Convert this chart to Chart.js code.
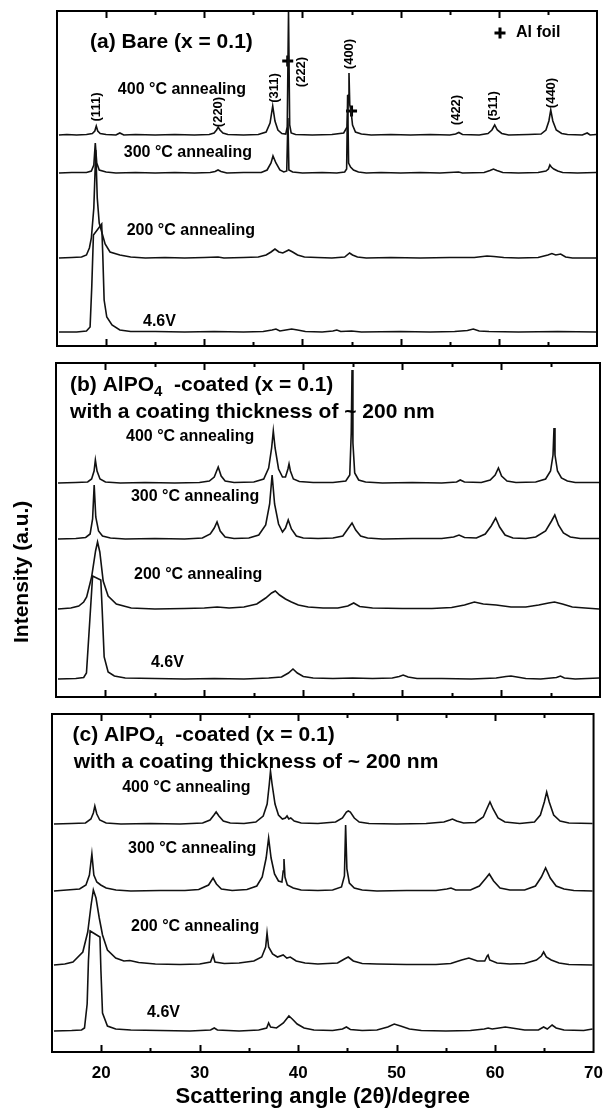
<!DOCTYPE html>
<html><head><meta charset="utf-8">
<script src="https://cdn.jsdelivr.net/npm/chart.js@4.4.1/dist/chart.umd.min.js"></script>
<style>
html,body{margin:0;padding:0;background:#fff;}
body{width:614px;height:1110px;position:relative;overflow:hidden;}
canvas{position:absolute;left:0;}
</style></head><body>
<canvas id="cA" width="614" height="360" style="top:0px;width:614px;height:360px"></canvas>
<canvas id="cB" width="614" height="352" style="top:356px;width:614px;height:352px"></canvas>
<canvas id="cC" width="614" height="402" style="top:708px;width:614px;height:402px"></canvas>
<script>
// ---------- axis ----------
const xTickLabels = [20, 30, 40, 50, 60, 70];
const xMinorTicks = [25, 35, 45, 55, 65];
const xTitle = 'Scattering angle (2θ)/degree';
const yTitle = 'Intensity (a.u.)';
const traceNames = ['400 °C annealing', '300 °C annealing', '200 °C annealing', '4.6V'];
const peakLabels = ['(111)', '(220)', '(311)', '(222)', '(400)', '(422)', '(511)', '(440)'];
const peakLabelX = [19.04, 31.4, 37.1, 39.9, 44.75, 55.65, 59.5, 65.4];

// ---------- panel (a) Bare: [2theta, intensity above trace baseline] ----------
const offsetsA = [211, 173, 88, 14];
const a400 = [[15.2,0],[16,0.5],[17,0],[18,0.5],[18.6,1.5],[18.85,4],[19.0,9],[19.15,4],[19.4,1.5],[20,0.5],[21,0],[21.4,2],[21.8,0],[23,0.5],[25,0],[27,0.5],[29,0],[30.5,0.5],[31.0,2],[31.25,5],[31.42,8],[31.6,5],[31.9,2],[32.4,0.5],[34,0],[35.5,0.5],[36.3,3],[36.7,12],[36.97,29],[37.2,14],[37.5,5],[37.9,1.5],[38.3,1],[38.45,8],[38.58,123],[38.7,10],[38.85,2],[39.3,0.5],[41,0],[43,0.5],[44.2,2],[44.55,8],[44.68,40],[44.74,62],[44.82,30],[44.95,24],[45.1,10],[45.4,3],[46,1],[47,0],[49,0.5],[51,0],[53,0.5],[55,0],[55.6,1],[55.93,2.5],[56.3,0.5],[58,0],[58.9,1.5],[59.3,5],[59.58,10],[59.85,5],[60.3,1.5],[61,0],[63,0.5],[64.3,1],[64.8,5],[65.1,14],[65.29,25],[65.5,14],[65.85,5],[66.4,1.5],[67,0.5],[68.5,0],[69,2],[69.3,0],[69.9,0.5]];
const a300 = [[15.2,0],[16.5,0.5],[18,0.5],[18.5,2],[18.75,8],[18.9,30],[19.05,10],[19.3,3],[20,1],[21,0],[23,0.5],[25,0],[27,0.5],[29,0],[30.6,0.5],[31.1,1.5],[31.4,3],[31.7,1.5],[32.3,0],[34,0.5],[35.8,0.5],[36.4,3],[36.8,10],[37.0,17],[37.3,10],[37.7,3],[38.1,1],[38.4,2],[38.52,55],[38.62,3],[39,1],[40,0],[42,0.5],[43.5,0],[44.3,1],[44.5,4],[44.6,78],[44.7,10],[44.9,6],[45.2,3],[45.7,1],[46.5,0],[48,0.5],[50,0],[52,0.5],[54,0],[55.9,1],[56.3,0],[58.5,0.5],[59.1,2.5],[59.45,4],[59.8,2.5],[60.4,0.5],[62,0],[64,0.5],[64.8,2],[65.05,4],[65.2,8],[65.35,6],[65.6,4],[66,2],[66.5,0.5],[68,0],[69.9,0.5]];
const a200 = [[15.2,0],[16.5,0.5],[17.5,1],[18.0,3],[18.3,10],[18.5,20],[18.75,50],[18.95,108],[19.1,60],[19.3,35],[19.5,28],[19.9,14],[20.4,6],[21.4,3],[22.5,1],[24,0],[26,0.5],[28,0],[30,0.5],[31.4,1],[32,0],[34,0.5],[35.5,1],[36.3,3],[36.8,6],[37.2,9],[37.6,6],[38.0,5],[38.6,8],[39.0,6],[39.5,3],[40.2,1],[41.5,0.5],[43,0],[44.3,1],[44.8,5],[45.1,3],[45.6,1],[46.5,0],[49,0.5],[52,0],[55,0.5],[57.5,0.5],[58.8,2],[59.5,1.5],[60.5,0.5],[62,0],[64,0.5],[65.0,3],[65.4,4.5],[65.8,3],[66.3,4],[66.8,1],[67.5,0],[69.9,0]];
const a46 = [[15.2,0],[17,0],[18.0,1],[18.37,5],[18.54,45],[18.71,97],[19.55,108],[19.66,78],[19.8,32],[20.07,15],[20.6,7],[21.4,2],[22.5,0.5],[25,0.5],[28,0],[31,0.5],[34,0],[36,0.5],[36.9,2],[37.3,3],[37.7,1],[38.3,2],[38.9,3],[39.5,2],[40.3,0.5],[42,0],[43.1,1],[43.5,2],[43.9,0.5],[45,1],[46,0],[50,0.5],[53,0],[55.5,0.5],[56.8,1.5],[57.4,3],[58,1],[59,0.5],[62,0],[66,0.5],[69.9,0]];
const alFoilMarks = [[38.5, 285], [45.0, 235]];

// ---------- panel (b) AlPO4-coated ----------
const offsetsB = [214, 158, 88, 18];
const b400 = [[15.2,0],[17,0.5],[18.2,1],[18.6,4],[18.85,12],[18.98,23],[19.15,12],[19.45,4],[20,1],[21.5,0],[24,0.5],[27,0],[29.5,0.5],[30.5,2],[31.0,6],[31.4,16],[31.7,7],[32.1,2],[33,0.5],[35,1],[36.0,4],[36.5,15],[36.8,35],[36.97,52],[37.15,35],[37.5,14],[37.9,6],[38.2,6],[38.45,14],[38.56,19],[38.7,12],[39.0,4],[39.6,1.5],[41,0.5],[43,0.5],[44.3,2],[44.7,8],[44.85,50],[44.93,113],[45.02,40],[45.2,10],[45.6,3],[46.3,1],[48,0],[51,0.5],[54,0],[55.5,1],[55.87,3],[56.3,1],[58,0.5],[58.9,3],[59.4,8],[59.73,15],[60.05,7],[60.6,2],[61.5,0.5],[63.5,1],[64.5,4],[65.0,12],[65.25,28],[65.35,55],[65.45,28],[65.7,12],[66.1,5],[66.7,2],[67.5,0.5],[69.9,0.5]];
const b300 = [[15.2,0],[17,0.5],[18.0,1.5],[18.45,5],[18.7,20],[18.86,54],[19.02,22],[19.3,8],[19.7,3],[20.5,1],[22,0],[25,0.5],[28,0],[29.8,1],[30.6,5],[31.0,11],[31.28,17],[31.6,8],[32.1,2],[33,0.5],[34.5,1],[35.5,4],[36.2,14],[36.6,35],[36.85,64],[37.1,35],[37.5,15],[37.9,7],[38.2,11],[38.48,19],[38.8,10],[39.3,3],[40,1],[41.5,0.5],[43,1],[44.0,3],[44.5,10],[44.93,16],[45.3,9],[45.8,3],[46.5,1],[48,0],[51,0.5],[54,0.5],[55.2,2],[55.75,4],[56.3,1.5],[57.5,1],[58.4,5],[59.0,13],[59.45,21],[59.85,12],[60.4,4],[61.2,1],[62.5,0.5],[63.5,2],[64.5,8],[65.1,18],[65.43,24],[65.8,14],[66.3,6],[67,2],[68,0.5],[69.9,0.5]];
const b200 = [[15.2,0],[16.5,1],[17.3,3],[17.8,7],[18.1,12],[18.6,32],[19.0,58],[19.2,67],[19.43,57],[19.77,28],[20.27,13],[21.1,5],[22.6,1],[25,0],[28,0.5],[30,1],[31.3,2],[32.5,1],[34,2],[35.3,5],[36.2,11],[36.8,16],[37.17,18],[37.6,14],[38.2,10],[38.8,7],[39.5,4],[40.5,2],[42,1],[43.5,1],[44.5,3],[45.1,6],[45.7,2.5],[47,1],[50,0.5],[53,0.5],[55,1.5],[56.3,4],[57.3,7],[58.2,5],[59.5,4],[61,2],[62.5,2],[63.8,4],[64.8,6],[65.4,7],[66.2,5],[67.2,2],[68.5,1],[69.9,0]];
const b46 = [[15.2,0],[17,0.5],[17.8,1.5],[18.08,6],[18.42,59],[18.7,103],[19.53,99],[19.67,69],[19.87,22],[20.27,7],[20.9,3],[22,1],[25,0.5],[28,0],[31,0.5],[34,0],[36.5,1],[37.8,2],[38.5,6],[38.96,10],[39.4,6],[40.0,2.5],[41,1],[43,0.5],[45,1],[47,0.5],[49,1],[49.7,2.5],[50.1,4],[50.6,2],[51.5,0.5],[54,0.5],[57,0],[59.5,1],[60.5,2.5],[61.0,3],[61.6,2],[62.5,0.5],[64,0],[65.6,1.5],[66.0,3],[66.4,1],[67.5,0],[69.9,1]];

// ---------- panel (c) AlPO4-coated ----------
const offsetsC = [228, 161, 87, 21];
const c400 = [[15.2,0],[17,0.5],[18.4,1],[18.95,5],[19.2,11],[19.35,18],[19.55,10],[19.85,4],[20.5,1],[22,0],[25,0.5],[28,0],[30.3,1],[31.05,4],[31.45,9],[31.67,12],[31.95,8],[32.4,3],[33.1,1],[34.5,0.5],[35.7,2],[36.45,8],[36.85,20],[37.07,40],[37.19,53],[37.35,40],[37.65,20],[38.0,9],[38.4,5],[38.7,6],[38.87,8],[39.05,5],[39.25,6],[39.6,3],[40.3,1],[42,0.5],[43.8,2],[44.5,6],[44.9,12],[45.09,13],[45.3,12],[45.7,6],[46.2,2],[47.2,0.5],[50,0],[53,0.5],[54.8,2],[55.4,4],[55.67,5],[56.1,3],[56.8,1],[58,1.5],[58.8,7],[59.2,16],[59.48,22],[59.8,15],[60.3,6],[61,2],[62.5,0.5],[64,2],[64.6,9],[65.0,22],[65.24,32],[65.5,22],[65.95,9],[66.6,3],[67.5,1],[69.9,0.5]];
const c300 = [[15.2,0],[16.5,1],[17.8,2],[18.45,6],[18.8,16],[19.05,37],[19.25,16],[19.55,9],[19.95,6],[20.5,3],[21.5,1],[23,0],[26,0.5],[28.5,0.5],[29.9,1.5],[30.9,6],[31.36,13],[31.7,7],[32.2,2],[33.3,0.5],[34.8,1.5],[35.8,5],[36.35,14],[36.75,33],[37.0,53],[37.25,33],[37.6,17],[38.0,10],[38.35,9],[38.48,20],[38.56,32],[38.66,14],[38.9,6],[39.5,3],[40.3,1],[42,0.5],[43.5,1],[44.4,4],[44.7,15],[44.82,66],[44.95,22],[45.2,8],[45.7,3],[46.5,1],[48,0],[51,0.5],[54,0.5],[55.1,2],[55.52,3],[56,1],[57.5,1],[58.4,5],[59.0,12],[59.41,17],[59.85,10],[60.5,3],[61.5,1],[63,1],[64.1,5],[64.7,14],[65.13,23],[65.6,13],[66.2,5],[67,2],[68,0.5],[69.9,0]];
const c200 = [[15.2,0],[16.3,1],[17.13,3],[18.13,13],[18.63,33],[18.97,60],[19.2,75],[19.47,67],[19.8,47],[20.13,30],[20.63,15],[21.47,7],[22.3,4],[22.9,4.5],[23.8,2.5],[25.5,1],[28,0.5],[30,1],[31.1,3],[31.36,10],[31.55,3],[32.5,1.5],[34,2],[35.5,4],[36.3,8],[36.7,18],[36.84,32],[37.0,18],[37.4,11],[37.9,8],[38.48,10],[38.85,7],[39.2,8],[39.8,4],[40.7,2],[42,1],[44,2],[44.7,6],[45.09,8],[45.6,4],[46.5,1.5],[48,1],[51,0.5],[54,0.5],[55.5,1.5],[56.6,5],[57.34,7],[58.2,4],[58.95,4],[59.2,9],[59.29,10],[59.45,5],[60.2,2],[61.5,1],[63,1.5],[64.2,5],[64.7,9],[64.93,13],[65.2,8],[65.7,5],[66.5,2],[67.5,0.5],[69.9,0]];
const c46 = [[15.2,0],[17,0.5],[18.0,1],[18.3,3],[18.57,27],[18.7,70],[18.87,100],[19.87,94],[19.97,60],[20.13,18],[20.63,5],[21.47,2],[23,1],[26,0.5],[29,0],[31.1,1],[31.48,3],[31.8,1],[34,0],[36,1],[36.8,3],[37.0,8],[37.2,4],[37.8,3],[38.5,8],[39.06,15],[39.4,12],[39.9,7],[40.6,3],[41.6,1],[43.5,0.5],[44.5,2],[44.9,4],[45.3,1.5],[46.5,0.5],[48,1],[49.1,4],[49.76,7],[50.4,5],[51.3,2],[52.5,0.5],[55,0],[57.5,0.5],[58.9,2],[59.29,3],[59.7,2],[60.4,3],[61.04,4],[61.7,3],[63,1],[64.4,1],[64.93,4],[65.3,2],[65.79,6],[66.2,3],[67,1],[69,0.5],[69.9,2]];

// ---------- rendering ----------
const FONT = '"Liberation Sans", Arial, Helvetica, sans-serif';
const INK = '#111';

function toXY(arr, off) { return arr.map(p => ({ x: p[0], y: p[1] + off })); }
function traceSets(traces, offsets) {
  return traces.map((t, i) => ({
    type: 'line', label: traceNames[i], data: toXY(t, offsets[i]),
    borderColor: INK, borderWidth: 1.6, pointRadius: 0, tension: 0, fill: false
  }));
}

const framePlugin = {
  id: 'frame',
  afterDraw(chart) {
    const { ctx, chartArea: a, scales: { x } } = chart;
    ctx.save();
    ctx.strokeStyle = '#000';
    ctx.lineWidth = 2;
    ctx.strokeRect(a.left, a.top, a.right - a.left, a.bottom - a.top);
    const tick = (v, len) => {
      const px = Math.round(x.getPixelForValue(v)) + 0.5;
      ctx.beginPath();
      ctx.moveTo(px, a.top); ctx.lineTo(px, a.top + len);
      ctx.moveTo(px, a.bottom); ctx.lineTo(px, a.bottom - len);
      ctx.stroke();
    };
    xTickLabels.forEach(v => { if (v < 70) tick(v, 7); });
    xMinorTicks.forEach(v => tick(v, 4));
    ctx.restore();
  }
};

const annoPlugin = {
  id: 'anno',
  afterDatasetsDraw(chart, args, opts) {
    const { ctx, scales: { x, y } } = chart;
    ctx.save();
    ctx.fillStyle = '#000';
    ctx.textBaseline = 'middle';
    (opts.items || []).forEach(it => {
      const px = it.px !== undefined ? it.px : x.getPixelForValue(it.x);
      const py = it.py !== undefined ? it.py : y.getPixelForValue(it.y);
      ctx.font = 'bold ' + it.size + 'px ' + FONT;
      if (it.rot) {
        ctx.save(); ctx.translate(px, py); ctx.rotate(-Math.PI / 2);
        ctx.textAlign = it.align || 'center'; ctx.fillText(it.t, 0, 0); ctx.restore();
      } else if (it.parts) {
        ctx.textAlign = 'left';
        let cx = px;
        it.parts.forEach(p => {
          if (p.sub) {
            ctx.font = 'bold ' + Math.round(it.size * 0.72) + 'px ' + FONT;
            ctx.fillText(p.t, cx, py + it.size * 0.32);
          } else {
            ctx.font = 'bold ' + it.size + 'px ' + FONT;
            ctx.fillText(p.t, cx, py);
          }
          cx += ctx.measureText(p.t).width;
        });
      } else if (it.cross) {
        ctx.strokeStyle = '#000'; ctx.lineWidth = 3;
        ctx.beginPath();
        ctx.moveTo(px - 5.5, py); ctx.lineTo(px + 5.5, py);
        ctx.moveTo(px, py - 5.5); ctx.lineTo(px, py + 5.5);
        ctx.stroke();
      } else {
        ctx.textAlign = 'left';
        ctx.fillText(it.t, px, py);
      }
    });
    ctx.restore();
  }
};

function makeChart(id, sets, H, pad, xOpts, yOpts, items) {
  return new Chart(document.getElementById(id), {
    type: 'line',
    data: { datasets: sets },
    options: {
      responsive: false, animation: false, events: [],
      layout: { padding: pad },
      plugins: { legend: { display: false }, tooltip: { enabled: false }, anno: { items } },
      scales: {
        x: Object.assign({ type: 'linear', min: 15, max: 70, display: false }, xOpts),
        y: Object.assign({ type: 'linear', min: 0, max: H, display: false }, yOpts)
      }
    },
    plugins: [annoPlugin, framePlugin]
  });
}

function traceLabelItems(pos) {
  return traceNames.map((t, i) => ({ t, x: pos[i][0], y: pos[i][1], size: 16 }));
}

// Panel (a)
const setsA = traceSets([a400, a300, a200, a46], offsetsA);
setsA.push({
  type: 'scatter', label: 'Al foil', data: alFoilMarks.map(p => ({ x: p[0], y: p[1] })),
  pointStyle: 'cross', pointRadius: 5.5, borderWidth: 3, borderColor: '#000', showLine: false
});
const itemsA = [
  { t: '(a) Bare (x = 0.1)', x: 18.36, y: 304, size: 21 },
  { cross: true, x: 60.12, y: 313 },
  { t: 'Al foil', x: 61.75, y: 313, size: 16 },
  ...traceLabelItems([[21.2, 256], [21.8, 193], [22.1, 115], [23.76, 24]]),
  ...peakLabels.map((t, i) => ({ t, x: peakLabelX[i], y: [239, 234, 258, 274, 292, 236, 240, 253][i], size: 13, rot: true }))
];
makeChart('cA', setsA, 335, { left: 57, right: 17, top: 11, bottom: 14 }, {}, {}, itemsA);

// Panel (b)  (y-axis title drawn rotated at the left, page y ~643 upward)
const itemsB = [
  { parts: [{ t: '(b) AlPO' }, { t: '4', sub: true }, { t: '  -coated (x = 0.1)' }], x: 16.42, y: 312, size: 21 },
  { t: 'with a coating thickness of ~ 200 nm', x: 16.42, y: 285, size: 21 },
  ...traceLabelItems([[22.08, 260], [22.58, 200], [22.89, 122], [24.6, 34]]),
  { t: yTitle, px: 22, py: 287, size: 21, rot: true, align: 'left' }
];
makeChart('cB', traceSets([b400, b300, b200, b46], offsetsB), 334,
  { left: 56, right: 14, top: 7, bottom: 11 }, {}, {}, itemsB);

// Panel (c)
const itemsC = [
  { parts: [{ t: '(c) AlPO' }, { t: '4', sub: true }, { t: '  -coated (x = 0.1)' }], x: 17.08, y: 317, size: 21 },
  { t: 'with a coating thickness of ~ 200 nm', x: 17.2, y: 290, size: 21 },
  ...traceLabelItems([[22.13, 264], [22.72, 203], [23.03, 125], [24.66, 39]])
];
makeChart('cC', traceSets([c400, c300, c200, c46], offsetsC), 338,
  { left: 52, right: 12, top: 6, bottom: 0 },
  {
    display: true,
    afterBuildTicks: s => { s.ticks = xTickLabels.map(v => ({ value: v })); },
    afterFit: s => { s.height = 58; },
    grid: { display: false, drawTicks: false }, border: { display: false },
    ticks: { color: '#000', padding: 11, maxRotation: 0, autoSkip: false, font: { family: FONT, size: 17, weight: 'bold' } },
    title: { display: true, text: xTitle, color: '#000', font: { family: FONT, size: 22, weight: 'bold' }, padding: { top: 0, bottom: 0 } }
  }, {}, itemsC);
</script>
</body></html>
